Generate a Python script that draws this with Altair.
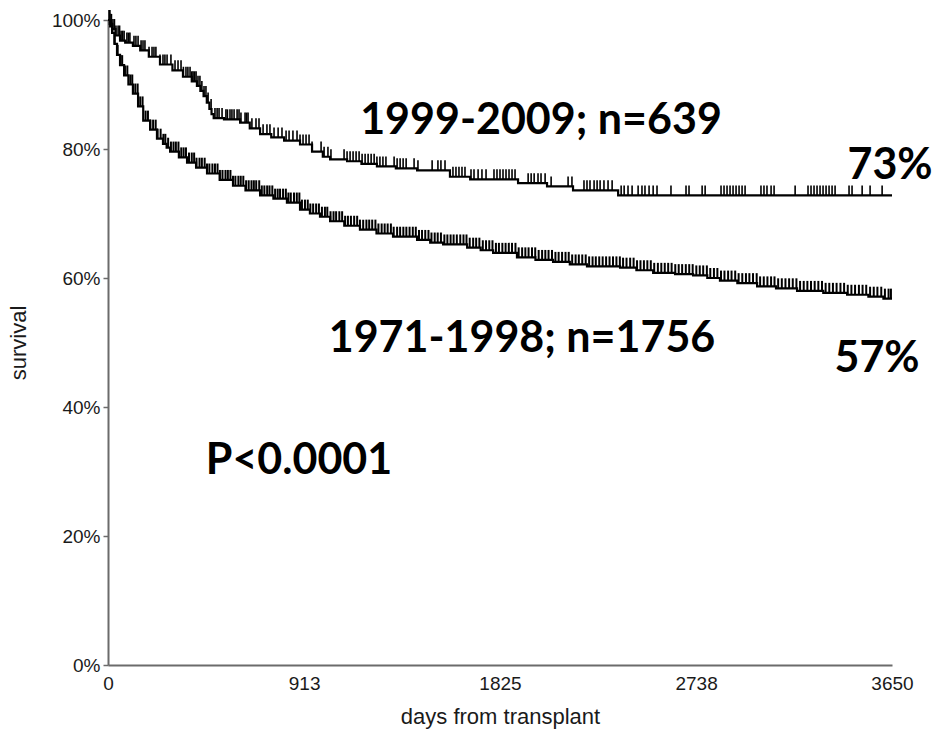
import altair as alt
import numpy as np
import pandas as pd

# Kaplan-Meier step curves (day, survival %) for the two transplant eras
RECENT_DAYS = [0, 8, 19, 35, 56, 80, 116, 150, 190, 242, 300, 349, 390, 414, 430,
               445, 460, 472, 482, 492, 540, 615, 660, 708, 760, 820, 894, 950, 1000,
               1034, 1113, 1180, 1252, 1340, 1439, 1592, 1686, 1909, 2044, 2165, 2375,
               3650]
RECENT_SURV = [100, 99.4, 98.6, 97.6, 96.8, 96.5, 96.0, 95.3, 94.3, 93.1, 92.2, 91.2,
               90.5, 89.8, 89.0, 88.2, 87.2, 86.2, 85.4, 84.8, 84.6, 84.1, 83.2, 82.3,
               81.8, 81.3, 80.7, 79.6, 78.8, 78.4, 78.1, 77.7, 77.3, 77.0, 76.7, 75.7,
               75.3, 74.7, 74.2, 73.6, 72.8, 72.8]

EARLY_DAYS = [0, 10, 19, 30, 42, 56, 75, 95, 116, 140, 164, 196, 228, 256, 273, 289,
              330, 368, 410, 461, 520, 582, 640, 708, 770, 833, 894, 940, 987, 1034,
              1100, 1173, 1250, 1327, 1439, 1500, 1560, 1672, 1735, 1793, 1904, 1990,
              2072, 2150, 2230, 2384, 2460, 2538, 2640, 2724, 2790, 2849, 2930, 3022,
              3110, 3208, 3330, 3441, 3540, 3610, 3650]
EARLY_SURV = [100, 99.0, 98.0, 96.3, 94.6, 93.0, 91.4, 90.0, 88.6, 86.6, 84.4, 83.0,
              81.6, 80.8, 80.2, 79.6, 78.7, 77.9, 77.1, 76.2, 75.2, 74.3, 73.6, 72.8,
              72.3, 71.7, 70.6, 70.0, 69.5, 68.8, 68.1, 67.5, 66.9, 66.4, 65.9, 65.5,
              65.2, 64.7, 64.3, 63.9, 63.2, 62.8, 62.5, 62.1, 61.8, 61.6, 61.2, 60.8,
              60.6, 60.4, 60.0, 59.6, 59.2, 58.7, 58.4, 58.0, 57.7, 57.4, 57.1, 56.8,
              56.8]

# Censoring times (days)
RECENT_CENSOR = [5, 9, 16, 23, 30, 37, 47, 54, 61, 68, 75, 88, 95, 102, 121, 130, 140,
                 154, 163, 172, 191, 205, 214, 223, 242, 256, 265, 275, 293, 312, 326,
                 340, 351, 363, 372, 382, 390, 396, 403, 410, 419, 428, 437, 447, 456,
                 466, 480, 498, 508, 517, 531, 549, 556, 568, 577, 587, 601, 610, 619,
                 638, 645, 652, 670, 689, 703, 722, 740, 754, 773, 792, 810, 829, 843,
                 861, 880, 894, 908, 922, 936, 950, 992, 1006, 1024, 1038, 1099, 1113,
                 1127, 1141, 1155, 1169, 1183, 1197, 1211, 1225, 1239, 1252, 1266, 1280,
                 1294, 1332, 1346, 1360, 1374, 1388, 1425, 1443, 1509, 1536, 1550, 1569,
                 1606, 1620, 1634, 1648, 1662, 1690, 1704, 1723, 1741, 1760, 1797, 1811,
                 1825, 1839, 1853, 1867, 1881, 1895, 1956, 1970, 1984, 2002, 2016, 2035,
                 2063, 2142, 2160, 2216, 2230, 2244, 2263, 2277, 2291, 2309, 2328, 2347,
                 2389, 2403, 2421, 2440, 2468, 2486, 2500, 2519, 2538, 2556, 2621, 2691,
                 2705, 2766, 2780, 2854, 2868, 2882, 2896, 2910, 2924, 2938, 2952, 2966,
                 3040, 3054, 3068, 3087, 3101, 3199, 3259, 3273, 3287, 3301, 3315, 3329,
                 3343, 3357, 3371, 3385, 3450, 3464, 3511, 3548, 3604]

EARLY_CENSOR = [8, 20, 31, 45, 58, 66, 79, 90, 104, 113, 127, 138, 150, 161, 175, 186,
                197, 210, 222, 231, 245, 258, 267, 280, 293, 305, 316, 328, 341, 352,
                363, 377, 390, 401, 412, 426, 437, 450, 461, 472, 486, 498, 510, 521,
                533, 547, 558, 570, 582, 593, 607, 618, 630, 643, 655, 668, 679, 690,
                704, 716, 728, 741, 752, 765, 778, 790, 801, 815, 828, 840, 851, 866,
                879, 891, 903, 917, 930, 942, 955, 969, 982, 996, 1010, 1021, 1036,
                1050, 1062, 1077, 1090, 1104, 1117, 1131, 1146, 1160, 1173, 1188, 1203,
                1216, 1230, 1245, 1259, 1274, 1288, 1302, 1317, 1330, 1346, 1360, 1375,
                1389, 1404, 1419, 1433, 1448, 1462, 1477, 1492, 1506, 1521, 1535, 1550,
                1566, 1580, 1595, 1609, 1624, 1640, 1655, 1669, 1684, 1700, 1714, 1729,
                1745, 1760, 1775, 1790, 1806, 1820, 1836, 1851, 1866, 1881, 1897, 1912,
                1928, 1943, 1958, 1974, 1989, 2005, 2021, 2036, 2051, 2067, 2083, 2098,
                2114, 2130, 2145, 2161, 2177, 2192, 2208, 2224, 2240, 2256, 2271, 2287,
                2303, 2319, 2335, 2351, 2367, 2383, 2398, 2414, 2431, 2447, 2463, 2479,
                2495, 2511, 2527, 2543, 2560, 2576, 2592, 2608, 2624, 2641, 2657, 2673,
                2690, 2706, 2722, 2739, 2755, 2771, 2788, 2804, 2821, 2837, 2854, 2870,
                2887, 2903, 2920, 2936, 2953, 2970, 2986, 3003, 3020, 3036, 3053, 3070,
                3087, 3103, 3120, 3137, 3154, 3171, 3188, 3205, 3222, 3239, 3256, 3273,
                3290, 3307, 3324, 3341, 3358, 3375, 3392, 3410, 3427, 3444, 3461, 3478,
                3496, 3513, 3530, 3548, 3565, 3582, 3600, 3617, 3634, 3645]

X_TICKS = [0, 913, 1825, 2738, 3650]
Y_TICKS = [0, 20, 40, 60, 80, 100]

LABEL_RECENT = "1999-2009; n=639"
LABEL_EARLY = "1971-1998; n=1756"
END_RECENT = "73%"
END_EARLY = "57%"
P_VALUE = "P<0.0001"


def censor_frame(days, surv, censor):
    """Place each censoring mark on the step curve at its time."""
    d = np.asarray(days)
    s = np.asarray(surv)
    c = np.asarray(censor)
    idx = np.searchsorted(d, c, side="right") - 1
    return pd.DataFrame({"day": c, "surv": s[idx]})


x_scale = alt.Scale(domain=[0, 3650], nice=False, zero=False)
y_scale = alt.Scale(domain=[0, 100], nice=False)

AXIS_FONT = "Liberation Sans, Arial, sans-serif"
ANNOT_FONT = "Lato, Open Sans, sans-serif"

x_axis = alt.Axis(values=X_TICKS, ticks=False, labelFlush=False, labelPadding=9,
                  format="d", title="days from transplant", grid=False, labelAngle=0,
                  titlePadding=13)
y_axis = alt.Axis(values=Y_TICKS, labelExpr="datum.value + '%'", tickSize=5,
                  labelPadding=3, title="survival", titlePadding=21, grid=False)


def km_layers(days, surv, censor, tick_width):
    curve = alt.Chart(pd.DataFrame({"day": days, "surv": surv})).mark_line(
        interpolate="step-after", color="black", strokeWidth=2.2
    ).encode(
        x=alt.X("day:Q", scale=x_scale, axis=x_axis),
        y=alt.Y("surv:Q", scale=y_scale, axis=y_axis),
    )
    marks = alt.Chart(censor_frame(days, surv, censor)).mark_tick(
        orient="vertical", size=10, thickness=tick_width, yOffset=-5,
        color="black", opacity=1
    ).encode(
        x=alt.X("day:Q", scale=x_scale),
        y=alt.Y("surv:Q", scale=y_scale),
    )
    return curve + marks


def annotation(text, px, py):
    return alt.Chart(pd.DataFrame({"label": [text]})).mark_text(
        font=ANNOT_FONT, fontSize=43, fontWeight="bold", color="black",
        align="center", baseline="alphabetic"
    ).encode(text="label:N", x=alt.value(px), y=alt.value(py))


chart = alt.layer(
    km_layers(EARLY_DAYS, EARLY_SURV, EARLY_CENSOR, 2),
    km_layers(RECENT_DAYS, RECENT_SURV, RECENT_CENSOR, 1.6),
    annotation(LABEL_RECENT, 433, 114),
    annotation(END_RECENT, 782, 159),
    annotation(LABEL_EARLY, 414, 332),
    annotation(END_EARLY, 769, 352),
    annotation(P_VALUE, 191, 454),
).properties(
    width=784,
    height=645,
    padding={"left": 108, "top": 20, "right": 45, "bottom": 71},
    autosize=alt.AutoSizeParams(type="none"),
).configure_view(
    stroke=None
).configure_axis(
    labelFont=AXIS_FONT, labelFontSize=19, labelColor="#1a1a1a",
    titleFont=AXIS_FONT, titleFontSize=22, titleFontWeight="normal", titleColor="#1a1a1a",
    domainColor="#6b6b6b", domainWidth=2, tickColor="#6b6b6b", tickWidth=1.5,
)

chart.save("out.html", embed_options={"renderer": "svg", "actions": False})
